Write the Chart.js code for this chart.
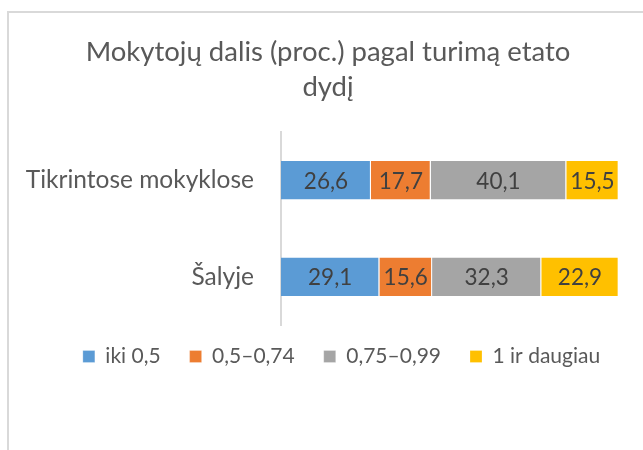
<!DOCTYPE html>
<html>
<head>
<meta charset="utf-8">
<script src="https://cdn.jsdelivr.net/npm/chart.js@4"></script>
<style>
  html, body { margin: 0; padding: 0; background: #fff; overflow: hidden; }
  #remelis { position: absolute; left: 7px; top: 11px; width: 700px; height: 500px;
             border-left: 2px solid #d9d9d9; border-top: 2px solid #d9d9d9; }
  #grafico { position: absolute; left: 0; top: 0; }
</style>
</head>
<body>
<div id="remelis"></div>
<canvas id="grafico" width="643" height="450"></canvas>
<script>
var pavadinimas = ["Mokytojų dalis (proc.) pagal turimą etato", "dydį"];
var kategorijos = ["Tikrintose mokyklose", "Šalyje"];
var serijos = ["iki 0,5", "0,5–0,74", "0,75–0,99", "1 ir daugiau"];
var spalvos = ["#5B9BD5", "#ED7D31", "#A5A5A5", "#FFC000"];
var ikiPuse = [26.6, 29.1];
var puseIki074 = [17.7, 15.6];
var nuo075 = [40.1, 32.3];
var vienasIrDaugiau = [15.5, 22.9];
var reiksmes = [ikiPuse, puseIki074, nuo075, vienasIrDaugiau];

var sriftas = "Lato, 'Open Sans', sans-serif";

// pavadinimas piešiamas atskirai, kad centras sutaptų su originalu
var pavadinimoPlugin = {
    id: "pavadinimas",
    afterDraw: function (chart) {
        var ctx = chart.ctx;
        ctx.save();
        ctx.font = "27.5px " + sriftas;
        ctx.fillStyle = "#595959";
        ctx.textAlign = "center";
        ctx.textBaseline = "alphabetic";
        ctx.fillText(pavadinimas[0], 328, 61);
        ctx.fillText(pavadinimas[1], 328, 96);
        ctx.restore();
    }
};

// reikšmės ant stulpelių
var etikeciuPlugin = {
    id: "etiketes",
    afterDatasetsDraw: function (chart) {
        var ctx = chart.ctx;
        ctx.save();
        ctx.font = "22.5px " + sriftas;
        ctx.fillStyle = "#404040";
        ctx.textAlign = "center";
        ctx.textBaseline = "middle";
        chart.data.datasets.forEach(function (ds, i) {
            chart.getDatasetMeta(i).data.forEach(function (el, j) {
                var p = el.getCenterPoint();
                ctx.fillText(ds.data[j].toFixed(1).replace(".", ","), p.x, p.y + 1);
            });
        });
        ctx.restore();
    }
};

// legenda pakeliama arčiau ašies ir pastumiama į dešinę
var legendosPlugin = {
    id: "legendosPoslinkis",
    afterLayout: function (chart) {
        chart.legend.top -= 8;
        chart.legend.bottom -= 8;
        chart.legend.left += 32;
        chart.legend.right += 32;
    }
};

var datasets = [];
for (var s = 0; s < serijos.length; s++) {
    datasets.push({
        label: serijos[s],
        data: reiksmes[s],
        backgroundColor: spalvos[s],
        borderColor: "#ffffff",
        borderWidth: {left: 0, top: 0, bottom: 0, right: 1},
        borderSkipped: false,
        categoryPercentage: 0.4,
        barPercentage: 1
    });
}

var ctx = document.getElementById("grafico").getContext("2d");
var grafico = new Chart(ctx, {
    type: "bar",
    data: { labels: kategorijos, datasets: datasets },
    plugins: [pavadinimoPlugin, etikeciuPlugin, legendosPlugin],
    options: {
        responsive: false,
        animation: false,
        indexAxis: "y",
        layout: { padding: { top: 132, right: 24, bottom: 65, left: 0 } },
        scales: {
            x: { stacked: true, display: false, min: 0, max: 100 },
            y: {
                stacked: true,
                grid: { display: false, drawTicks: false },
                border: { display: true, color: "#d9d9d9", width: 2 },
                ticks: { color: "#595959", font: { family: sriftas, size: 24.5 }, padding: 27 },
                afterFit: function (scale) { scale.width = 281; }
            }
        },
        plugins: {
            title: { display: false },
            tooltip: { enabled: false },
            legend: {
                position: "bottom",
                labels: {
                    boxWidth: 12,
                    boxHeight: 12,
                    padding: 29,
                    color: "#595959",
                    font: { family: sriftas, size: 21 }
                }
            }
        }
    }
});
</script>
</body>
</html>
